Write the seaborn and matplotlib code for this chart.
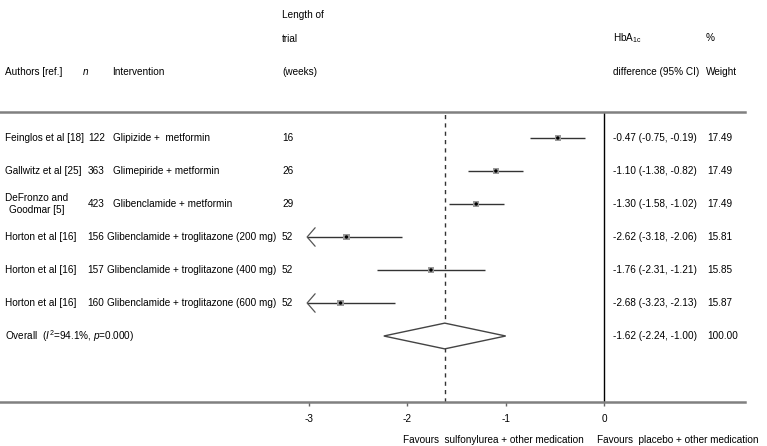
import matplotlib
matplotlib.use("Agg")
import matplotlib.pyplot as plt
import seaborn as sns
import pandas as pd
import numpy as np

# ---- data ----
authors = ["Feinglos et al [18]", "Gallwitz et al [25]", "DeFronzo and\nGoodmar [5]",
           "Horton et al [16]", "Horton et al [16]", "Horton et al [16]"]
n_pat = [122, 363, 423, 156, 157, 160]
interventions = ["Glipizide +  metformin", "Glimepiride + metformin", "Glibenclamide + metformin",
                 "Glibenclamide + troglitazone (200 mg)", "Glibenclamide + troglitazone (400 mg)",
                 "Glibenclamide + troglitazone (600 mg)"]
weeks = [16, 26, 29, 52, 52, 52]
est = [-0.47, -1.10, -1.30, -2.62, -1.76, -2.68]
lo = [-0.75, -1.38, -1.58, -3.18, -2.31, -3.23]
hi = [-0.19, -0.82, -1.02, -2.06, -1.21, -2.13]
weight = [17.49, 17.49, 17.49, 15.81, 15.85, 15.87]
overall = {"est": -1.62, "lo": -2.24, "hi": -1.00, "weight": 100.00}
overall_label = r"Overall  ($I^2$=94.1%, $p$=0.000)"
xticks = [-3, -2, -1, 0]
left_label = "Favours  sulfonylurea + other medication"
right_label = "Favours  placebo + other medication"

sns.set_style("white")
plt.rcParams["font.family"] = ["Liberation Sans", "DejaVu Sans"]
plt.rcParams["mathtext.fontset"] = "custom"
plt.rcParams["mathtext.rm"] = "Liberation Sans"
plt.rcParams["mathtext.it"] = "Liberation Sans:italic"
plt.rcParams["text.color"] = "black"
plt.rcParams["xtick.color"] = "black"

W, H = 767, 446
fig = plt.figure(figsize=(W / 100, H / 100), dpi=100)
FS = 7.2

def T(xp, yp, s, **kw):
    kw.setdefault("fontsize", FS)
    kw.setdefault("va", "center")
    kw.setdefault("ha", "left")
    kw.setdefault("color", "black")
    fig.text(xp / W, 1 - yp / H, s, **kw)

# axes: pixel x 0..745, y 112..402 ; x0 at 604, 98.3 px/unit
ppu = 98.3
x0 = 604
ax = fig.add_axes([0, 1 - 402 / H, 745 / W, (402 - 112) / H])
ax.set_xlim(-x0 / ppu, (745 - x0) / ppu)
ax.set_ylim(8, -0.788)

rows = np.arange(len(est))
df = pd.DataFrame({"est": est, "lo": lo, "hi": hi, "row": rows})

clip = -3.02
lo_c = np.maximum(df["lo"], clip)
ax.hlines(df["row"], lo_c, df["hi"], color="#333333", lw=1.0, zorder=2)
for r, l in zip(df["row"], df["lo"]):
    if l < clip:
        dx = 8 / ppu
        ax.plot([clip + dx, clip, clip + dx], [r - 0.28, r, r + 0.28],
                color="#555555", lw=0.9, zorder=2)

sns.scatterplot(data=df, x="est", y="row", marker="s", s=20, color="#9a9a9a",
                edgecolor="none", ax=ax, zorder=3, legend=False)
sns.scatterplot(data=df, x="est", y="row", marker="o", s=6, color="black",
                edgecolor="none", ax=ax, zorder=4, legend=False)

orow = len(est)
dh = 0.39
ax.fill([overall["lo"], overall["est"], overall["hi"], overall["est"], overall["lo"]],
        [orow, orow - dh, orow, orow + dh, orow], facecolor="white",
        edgecolor="#444444", lw=1.0, zorder=3)

ax.axvline(0, color="black", lw=1.0, zorder=1)
ax.axvline(overall["est"], color="#333333", lw=1.0, ls=(0, (3, 3)), zorder=1)

for s in ["left", "right"]:
    ax.spines[s].set_visible(False)
for s in ["top", "bottom"]:
    ax.spines[s].set_visible(True)
    ax.spines[s].set_color("#808080")
    ax.spines[s].set_linewidth(1.8)
ax.set_yticks([])
ax.set_xticks(xticks)
ax.set_xticklabels([str(t) for t in xticks])
ax.tick_params(axis="x", direction="out", length=3, width=1, color="#666666",
               labelsize=FS, labelcolor="black", pad=6, bottom=True)
ax.set_xlabel("")
ax.set_ylabel("")
ax.set_facecolor("none")

# header
T(282, 15, "Length of")
T(282, 39, "trial")
T(282, 72, "(weeks)")
T(5, 72, "Authors [ref.]")
T(83, 72, "n", style="italic")
T(112, 72, "Intervention")
T(613, 38, r"HbA$_{\mathrm{1c}}$")
T(613, 72, "difference (95% CI)")
T(706, 38, "%")
T(706, 72, "Weight")

# rows
for i in range(len(est)):
    yp = 138 + 33 * i
    if "\n" in authors[i]:
        T(5, yp, authors[i], multialignment="center", linespacing=1.35)
    else:
        T(5, yp, authors[i])
    long_int = len(interventions[i]) > 30
    T(87 if long_int else 88, yp, str(n_pat[i]))
    T(107 if long_int else 113, yp, interventions[i])
    T(282, yp, str(weeks[i]))
    T(613, yp, f"{est[i]:.2f} ({lo[i]:.2f}, {hi[i]:.2f})")
    T(707, yp, f"{weight[i]:.2f}")

yo = 138 + 33 * len(est)
T(5, yo, overall_label)
T(613, yo, f"{overall['est']:.2f} ({overall['lo']:.2f}, {overall['hi']:.2f})")
T(707, yo, f"{overall['weight']:.2f}")

T(584, 440, left_label, ha="right")
T(597, 440, right_label)

fig.savefig("out.png", dpi=100)
